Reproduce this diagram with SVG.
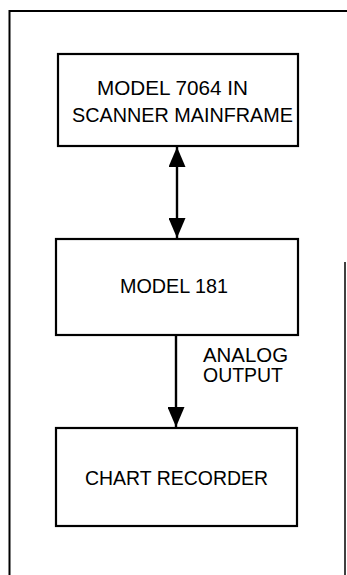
<svg xmlns="http://www.w3.org/2000/svg" width="347" height="575" viewBox="0 0 347 575">
<style>
.box{fill:#fff;stroke:#000;stroke-width:2.2}
.frame{fill:none;stroke:#000;stroke-width:2}
.t{font-family:"Liberation Sans",Arial,sans-serif;font-size:19.5px;fill:#000}
.c{stroke:#000;stroke-width:2.4;fill:none}
</style>
<defs>
<marker id="ah" markerWidth="20" markerHeight="17" refX="20" refY="8.5" orient="auto-start-reverse" markerUnits="userSpaceOnUse">
<path d="M0,0 L20,8.5 L0,17 Z" fill="#000"/>
</marker>
</defs>
<g id="frame">
<path class="frame" d="M9.5,575 L9.5,11 L347,11"/>
<path d="M345,262 L345,575" stroke="#000" stroke-width="1.5" fill="none"/>
</g>
<g id="connectors">
<line class="c" x1="177" y1="147" x2="177" y2="238" marker-start="url(#ah)" marker-end="url(#ah)"/>
<line class="c" x1="176" y1="336" x2="176" y2="427" marker-end="url(#ah)"/>
<text class="t" x="203" y="362" textLength="85" lengthAdjust="spacingAndGlyphs">ANALOG</text>
<text class="t" x="203" y="382" textLength="80" lengthAdjust="spacingAndGlyphs">OUTPUT</text>
</g>
<g id="n1">
<rect class="box" x="58" y="54" width="240" height="92"/>
<text class="t" x="97" y="95" textLength="151" lengthAdjust="spacingAndGlyphs">MODEL 7064 IN</text>
<text class="t" x="72" y="122" textLength="221" lengthAdjust="spacingAndGlyphs">SCANNER MAINFRAME</text>
</g>
<g id="n2">
<rect class="box" x="56" y="239" width="242" height="96"/>
<text class="t" x="120" y="293" textLength="108" lengthAdjust="spacingAndGlyphs">MODEL 181</text>
</g>
<g id="n3">
<rect class="box" x="56" y="428" width="241" height="98"/>
<text class="t" x="85" y="485" textLength="183" lengthAdjust="spacingAndGlyphs">CHART RECORDER</text>
</g>
</svg>
